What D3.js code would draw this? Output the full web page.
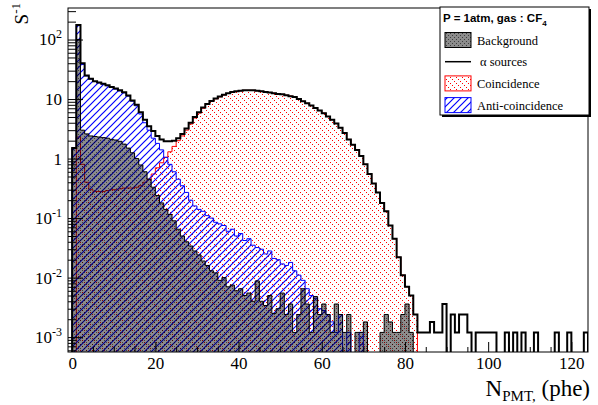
<!DOCTYPE html>
<html>
<head>
<meta charset="utf-8">
<script src="https://cdn.jsdelivr.net/npm/d3@7"></script>
<style>
  body { margin: 0; background: #fff; }
  svg { display: block; }
  text { white-space: pre; }
</style>
</head>
<body>
<svg id="chart" width="598" height="405"></svg>
<script>
// N_PMT spectrum, CF4 at 1 atm -- rates per bin (s^-1), bins of 1 phe starting at 0

var binLow = 0, binWidth = 1;

// alpha sources (total, black thick line)
var alphaRate = [
  1.5, 175, 40, 25, 22, 20, 19, 18, 17, 16,
  15, 14, 13, 11.5, 9.5, 8, 6, 4.5, 3.5, 2.9,
  2.4, 2.1, 1.95, 1.95, 2.0, 2.2, 2.6, 3.2, 4.0, 5.0,
  6.0, 7.2, 8.3, 9.3, 10.2, 11.0, 11.8, 12.5, 13.1, 13.5,
  13.8, 14.0, 14.1, 14.0, 13.8, 13.5, 13.2, 12.9, 12.5, 12.2,
  12.0, 11.6, 11.2, 10.8, 10.0, 9.2, 8.5, 7.8, 7.1, 6.4,
  5.8, 5.1, 4.5, 3.9, 3.3, 2.7, 2.1, 1.7, 1.4, 1.1,
  0.8, 0.55, 0.38, 0.27, 0.18, 0.13, 0.075, 0.045, 0.022, 0.011,
  0.007, 0.005, 0.0024, 0.0012, 0.0012, 0.0012, 0.0018, 0.0012, 0.0012, 0.0036,
  0, 0.0024, 0.0012, 0.0024, 0.0024, 0.0012, 0, 0.0012, 0.0012, 0.0012,
  0.0012, 0.0012, 0, 0, 0.0012, 0, 0.0012, 0, 0.0012, 0,
  0, 0.0012, 0, 0, 0, 0, 0.0012, 0, 0, 0.0012,
  0, 0, 0, 0.0012
];

// anti-coincidence (blue)
var antiRate = [
  1.5, 172, 38, 24.5, 21.7, 19.7, 18.7, 17.7, 16.7, 15.7,
  14.7, 13.7, 12.7, 11.2, 9.2, 7.7, 5.6, 4.0, 3.0, 2.2,
  1.8, 1.4, 1.05, 0.8, 0.6, 0.45, 0.35, 0.27, 0.2, 0.16,
  0.14, 0.13, 0.11, 0.1, 0.085, 0.08, 0.075, 0.06, 0.065, 0.05,
  0.055, 0.042, 0.045, 0.035, 0.032, 0.03, 0.025, 0.028, 0.021, 0.02,
  0.017, 0.016, 0.018, 0.013, 0.011, 0.009, 0.0065, 0.005, 0.0045, 0.003,
  0.0028, 0.0024, 0.0018, 0.0012, 0.0024, 0, 0.0012, 0, 0, 0.0012
];

// coincidence (red)
var coincRate = [
  0, 2.3, 0.8, 0.4, 0.3, 0.28, 0.28, 0.28, 0.29, 0.3,
  0.3, 0.31, 0.32, 0.32, 0.32, 0.33, 0.35, 0.4, 0.45, 0.55,
  0.7, 0.85, 1.05, 1.3, 1.6, 2.0, 2.4, 3.0, 3.8, 4.8,
  5.8, 7.0, 8.2, 9.2, 10.1, 10.9, 11.7, 12.4, 13.0, 13.4,
  13.7, 14.0, 14.0, 14.0, 13.8, 13.5, 13.2, 12.9, 12.5, 12.2,
  11.9, 11.6, 11.2, 10.8, 10.0, 9.2, 8.5, 7.8, 7.1, 6.4,
  5.8, 5.1, 4.5, 3.9, 3.3, 2.7, 2.1, 1.7, 1.4, 1.1,
  0.8, 0.55, 0.38, 0.27, 0.18, 0.13, 0.075, 0.045, 0.022, 0.011,
  0.007, 0.005, 0.0024
];

// background (grey)
var backgroundRate = [
  1.5, 100, 3.0, 2.6, 2.4, 2.35, 2.3, 2.25, 2.2, 2.1,
  2.05, 1.95, 1.75, 1.5, 1.25, 1.0, 0.78, 0.6, 0.45, 0.33,
  0.24, 0.18, 0.14, 0.115, 0.09, 0.065, 0.05, 0.04, 0.034, 0.028,
  0.024, 0.019, 0.016, 0.013, 0.012, 0.009, 0.01, 0.007, 0.0075, 0.006,
  0.0065, 0.005, 0.0055, 0.004, 0.0088, 0.004, 0.0034, 0.005, 0.0025, 0.003,
  0.0055, 0.0024, 0.0036, 0.0012, 0.0024, 0.0065, 0.0036, 0.0012, 0.0048, 0.0024,
  0.0036, 0.0024, 0.0012, 0.0036, 0.0024, 0.0012, 0.0024, 0, 0.0012, 0.0012,
  0.0018, 0, 0, 0, 0.0012, 0.0024, 0.0018, 0.0012, 0.0012, 0.0024,
  0.0036, 0.0012
];

var xMajorTicks = [0, 20, 40, 60, 80, 100, 120];
var yMajorExp = [-3, -2, -1, 0, 1, 2];
var legendTitle = "P = 1atm, gas : CF";
var legendLabels = ["Background", "\u03b1 sources", "Coincidence", "Anti-coincidence"];

///////////////////////////////////////////////////////////////////////////////
// Frame and scales

var margin = {left: 68, top: 8, right: 10, bottom: 53};
var width = 598 - margin.left - margin.right;
var height = 405 - margin.top - margin.bottom;

var svg = d3.select("#chart");
var serif = "'Liberation Serif', 'Times New Roman', serif";
var sans = "'Liberation Sans', Arial, sans-serif";

var x = d3.scaleLinear().domain([-1, 124]).range([0, width]);
var y = d3.scaleLog().domain([Math.pow(10, -3.25), Math.pow(10, 2.53)]).range([height, 0]).clamp(true);

var defs = svg.append("defs");

defs.append("clipPath").attr("id", "plotClip")
  .append("rect").attr("width", width).attr("height", height);

// grey mesh (background): half-transparent grey with a fine dark dot grid
var checker = defs.append("pattern").attr("id", "patChecker")
  .attr("patternUnits", "userSpaceOnUse").attr("width", 4).attr("height", 4);
checker.append("rect").attr("width", 4).attr("height", 4).attr("fill", "#000").attr("fill-opacity", 0.45);
checker.append("rect").attr("x", 0).attr("y", 0).attr("width", 1).attr("height", 1).attr("fill", "#000").attr("fill-opacity", 0.55);
checker.append("rect").attr("x", 2).attr("y", 2).attr("width", 1).attr("height", 1).attr("fill", "#000").attr("fill-opacity", 0.55);

// blue "/" hatch (anti-coincidence)
defs.append("pattern").attr("id", "patBlue")
  .attr("patternUnits", "userSpaceOnUse").attr("width", 7).attr("height", 7)
  .append("path").attr("d", "M0,7L7,0M-1,1L1,-1M6,8L8,6")
  .attr("stroke", "#0000ff").attr("stroke-width", 1.2);

// red dotted "\" hatch (coincidence)
var dots = defs.append("pattern").attr("id", "patRed")
  .attr("patternUnits", "userSpaceOnUse").attr("width", 6).attr("height", 6);
[0, 2, 4].forEach(function (d) {
  dots.append("rect").attr("x", d).attr("y", d).attr("width", 1).attr("height", 1).attr("fill", "#ff0000");
});

var g = svg.append("g").attr("transform", "translate(" + margin.left + "," + margin.top + ")");

///////////////////////////////////////////////////////////////////////////////
// Histograms

var yOf = function (v) { return v > 0 ? y(v) : height + 2; };

var stepPoints = function (values) {
  var pts = [[x(binLow), height + 2]];
  values.forEach(function (v, i) {
    var lo = binLow + i * binWidth;
    pts.push([x(lo), yOf(v)], [x(lo + binWidth), yOf(v)]);
  });
  pts.push([x(binLow + values.length * binWidth), height + 2]);
  return pts;
};

var line = d3.line();
var plot = g.append("g").attr("clip-path", "url(#plotClip)");

var drawHist = function (values, fill, stroke, strokeWidth) {
  var pts = stepPoints(values);
  if (fill)
    plot.append("path").attr("d", line(pts) + "Z").attr("fill", fill).attr("stroke", "none");
  plot.append("path").attr("d", line(pts))
    .attr("fill", "none").attr("stroke", stroke).attr("stroke-width", strokeWidth);
};

drawHist(coincRate, "url(#patRed)", "#ff0000", 1);
drawHist(antiRate, "url(#patBlue)", "#0000ff", 1);
drawHist(backgroundRate, "url(#patChecker)", "#000", 1);
drawHist(alphaRate, null, "#000", 2);

///////////////////////////////////////////////////////////////////////////////
// Axes

var xMinor = d3.range(0, 125, 5).filter(function (v) { return v % 20 !== 0; });

var xAxis = g.append("g").attr("transform", "translate(0," + height + ")")
  .call(d3.axisBottom(x).tickValues(xMajorTicks).tickSize(-10).tickSizeOuter(0).tickPadding(5));
g.append("g").attr("transform", "translate(0," + height + ")")
  .call(d3.axisBottom(x).tickValues(xMinor).tickSize(-5).tickSizeOuter(0).tickFormat(""));

var yMinor = [];
d3.range(-4, 3).forEach(function (e) {
  d3.range(2, 10).forEach(function (m) {
    var v = m * Math.pow(10, e);
    if (v >= y.domain()[0] && v <= y.domain()[1]) yMinor.push(v);
  });
});

var yAxis = g.append("g")
  .call(d3.axisLeft(y).tickValues(yMajorExp.map(function (e) { return Math.pow(10, e); }))
    .tickSize(-15).tickSizeOuter(0).tickPadding(6).tickFormat(""));
g.append("g")
  .call(d3.axisLeft(y).tickValues(yMinor).tickSize(-8).tickSizeOuter(0).tickFormat(""));

g.selectAll(".domain").remove();
g.selectAll(".tick line").attr("stroke", "#000");

xAxis.selectAll("text").attr("font-family", serif).attr("font-size", 17).attr("fill", "#000");

yAxis.selectAll(".tick text").each(function (d, i) {
  var t = d3.select(this).attr("font-family", serif).attr("font-size", 17).attr("fill", "#000");
  var e = yMajorExp[i];
  if (e === 0) { t.text("1"); return; }
  if (e === 1) { t.text("10"); return; }
  t.text("10");
  t.append("tspan").attr("font-size", 12).attr("dy", "-7").text(e);
});

// frame
g.append("rect").attr("width", width).attr("height", height)
  .attr("fill", "none").attr("stroke", "#000").attr("stroke-width", 1);

// axis titles
var xt = svg.append("text").attr("x", 590).attr("y", 396).attr("text-anchor", "end")
  .attr("font-family", serif).attr("font-size", 23).attr("fill", "#000").text("N");
xt.append("tspan").attr("font-size", 15).attr("dy", 5).text("PMT,");
xt.append("tspan").attr("dy", -5).text(" (phe)");

var yt = svg.append("text").attr("transform", "translate(28,3) rotate(-90)").attr("text-anchor", "end")
  .attr("font-family", serif).attr("font-size", 19).attr("fill", "#000").text("S");
yt.append("tspan").attr("font-size", 13).attr("dy", -8).text("-1");

///////////////////////////////////////////////////////////////////////////////
// Legend

var lg = svg.append("g").attr("transform", "translate(440,7)");
lg.append("rect").attr("x", 2).attr("y", 2).attr("width", 149).attr("height", 108).attr("fill", "#000");
lg.append("rect").attr("x", 0).attr("y", 0).attr("width", 149).attr("height", 108)
  .attr("fill", "#fff").attr("stroke", "#000").attr("stroke-width", 1);

var lt = lg.append("text").attr("x", 3).attr("y", 15)
  .attr("font-family", sans).attr("font-weight", "bold").attr("font-size", 11.5).attr("fill", "#000")
  .text(legendTitle);
lt.append("tspan").attr("font-size", 8).attr("dy", 4).text("4");

var swatch = [
  {fill: "url(#patChecker)", stroke: "#000"},
  null,
  {fill: "url(#patRed)", stroke: "#ff0000"},
  {fill: "url(#patBlue)", stroke: "#0000ff"}
];

legendLabels.forEach(function (label, i) {
  var cy = 33 + i * 21.7;
  var s = swatch[i];
  if (s)
    lg.append("rect").attr("x", 5).attr("y", cy - 7.5).attr("width", 26).attr("height", 15)
      .attr("fill", s.fill).attr("stroke", s.stroke).attr("stroke-width", 1);
  else
    lg.append("line").attr("x1", 5).attr("x2", 31).attr("y1", cy).attr("y2", cy)
      .attr("stroke", "#000").attr("stroke-width", 1.5);
  lg.append("text").attr("x", s ? 37 : 40).attr("y", cy + 4.5)
    .attr("font-family", serif).attr("font-size", 12.5).attr("fill", "#000").text(label);
});
</script>
</body>
</html>
